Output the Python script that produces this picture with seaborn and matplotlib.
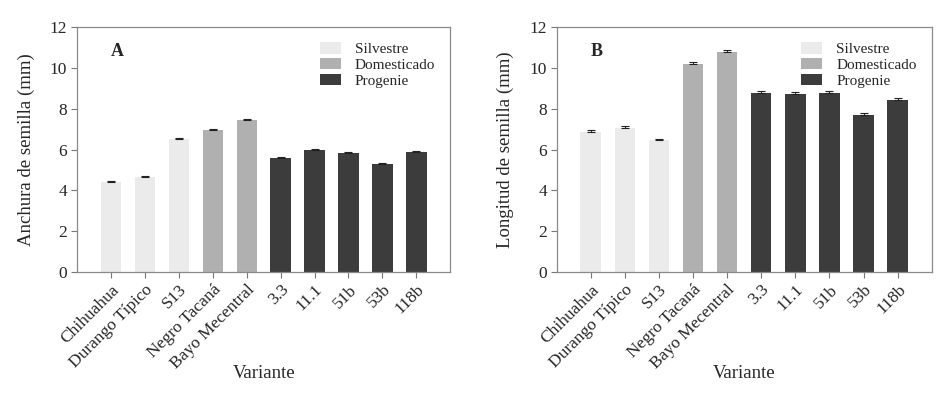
import pandas as pd
import numpy as np
import matplotlib
matplotlib.use('Agg')
import matplotlib.pyplot as plt
import seaborn as sns

# Data
variantes = ['Chihuahua', 'Durango Típico', 'S13', 'Negro Tacaná', 'Bayo Mecentral',
             '3.3', '11.1', '51b', '53b', '118b']
grupos = ['Silvestre', 'Silvestre', 'Silvestre', 'Domesticado', 'Domesticado',
          'Progenie', 'Progenie', 'Progenie', 'Progenie', 'Progenie']
anchura = [4.42, 4.66, 6.50, 6.94, 7.46, 5.58, 5.96, 5.85, 5.28, 5.90]
anchura_err = [0.05, 0.05, 0.05, 0.05, 0.06, 0.05, 0.07, 0.05, 0.05, 0.05]
longitud = [6.88, 7.06, 6.48, 10.20, 10.78, 8.76, 8.70, 8.79, 7.67, 8.42]
longitud_err = [0.10, 0.08, 0.06, 0.10, 0.10, 0.10, 0.10, 0.08, 0.10, 0.10]

palette = {'Silvestre': '#ebebeb', 'Domesticado': '#b0b0b0', 'Progenie': '#3c3c3c'}

sns.set_theme(style='white')
plt.rcParams['font.family'] = ['Liberation Serif', 'DejaVu Serif']

fig = plt.figure(figsize=(9.45, 3.93), dpi=100)
ax1 = fig.add_axes([0.0815, 0.308, 0.395, 0.623])
ax2 = fig.add_axes([0.589, 0.308, 0.397, 0.623])

panels = [
    (ax1, anchura, anchura_err, 'Anchura de semilla (mm)', 'A'),
    (ax2, longitud, longitud_err, 'Longitud de semilla (mm)', 'B'),
]

for ax, vals, errs, ylabel, letra in panels:
    df = pd.DataFrame({'Variante': variantes, 'Grupo': grupos, 'Valor': vals})
    sns.barplot(data=df, x='Variante', y='Valor', hue='Grupo', palette=palette,
                dodge=False, width=0.6, errorbar=None, ax=ax, linewidth=0)
    # upper error bars only
    ax.errorbar(np.arange(len(variantes)), vals, yerr=[np.zeros(len(errs)), errs],
                fmt='none', ecolor='#222222', elinewidth=0.8, capsize=3, capthick=0.8)
    ax.set_xlim(-1, len(variantes))
    ax.set_ylim(0, 12)
    ax.set_yticks(range(0, 13, 2))
    ax.set_xticks(range(len(variantes)))
    ax.set_xticklabels(variantes, rotation=45, ha='right', rotation_mode='anchor')
    ax.set_ylabel(ylabel, fontsize=13.5, labelpad=11)
    ax.set_xlabel('Variante', fontsize=13.5)
    ax.xaxis.set_label_coords(0.5, -0.38)
    ax.tick_params(axis='both', which='major', bottom=True, left=True, length=4,
                   width=0.8, color='#777777', labelsize=12.5, pad=3)
    for s in ax.spines.values():
        s.set_color('#8a8a8a')
        s.set_linewidth(0.9)
    ax.text(0.09, 0.9, letra, transform=ax.transAxes, fontsize=13,
            fontweight='bold', va='center', ha='left')
    ax.legend(title=None, loc='upper right', frameon=False, fontsize=11,
              handlelength=1.4, handleheight=0.75, labelspacing=0.12,
              handletextpad=0.9, borderaxespad=0.6)

fig.savefig('out.png', dpi=100)
